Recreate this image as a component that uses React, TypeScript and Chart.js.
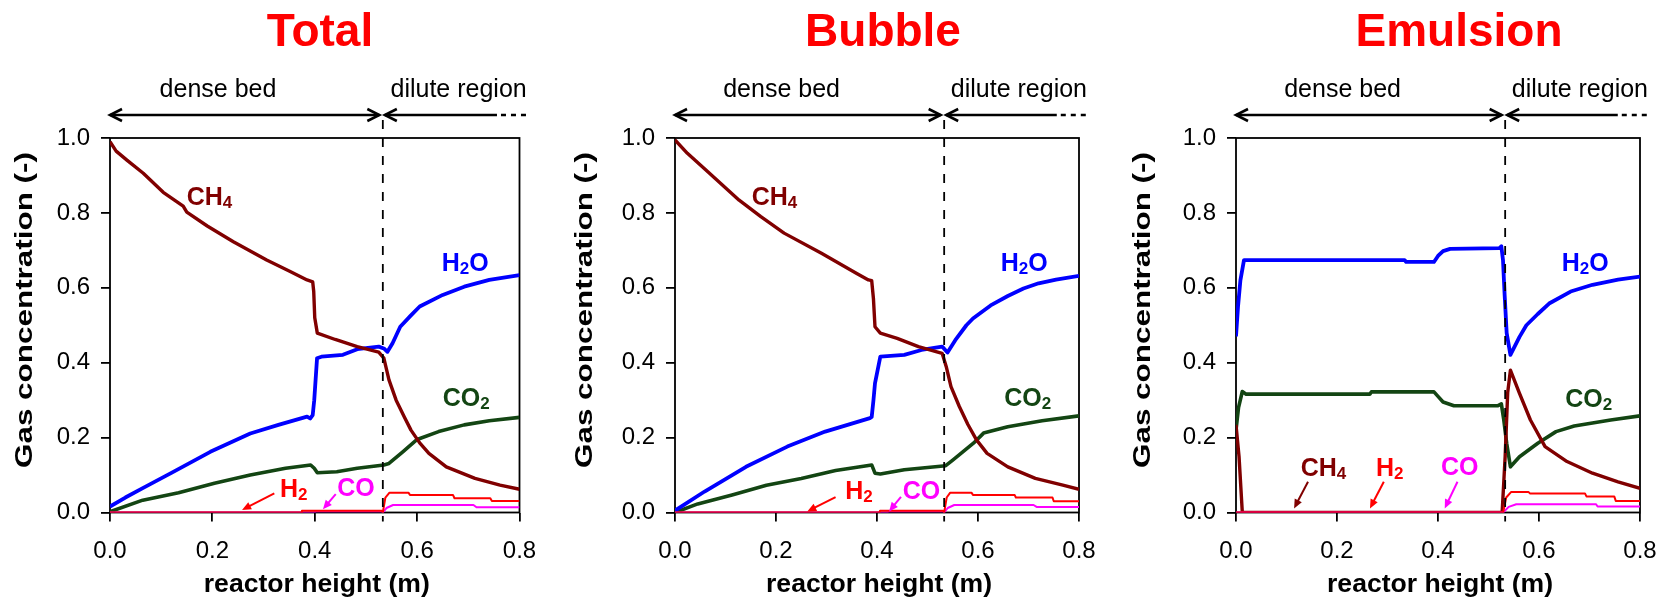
import React, { useEffect, useRef } from 'react';
import { Chart, registerables } from 'chart.js';

Chart.register(...registerables);

const FONT = "'Liberation Sans', Arial, Helvetica, sans-serif";
Chart.defaults.font.family = FONT;

type Pt = [number, number];

// ---------- text ----------
const panelTitles = ['Total', 'Bubble', 'Emulsion'];
const regionLabels = ['dense bed', 'dilute region'];
const xAxisTitle = 'reactor height (m)';
const yAxisTitle = 'Gas concentration (-)';
const speciesNames = ['H2', 'CO', 'CH4', 'H2O', 'CO2'];

// ---------- axes ----------
const xTickValues = [0, 0.2, 0.4, 0.6, 0.8];
const yTickValues = [0, 0.2, 0.4, 0.6, 0.8, 1.0];
const xRange = [0, 0.8];
const yRange = [0, 1];
const bedBoundary = 0.533;
const regionLabelX = [0.211, 0.681];
const regionArrowSolidEnd = 0.756;
const regionArrowDashEnd = 0.818;

// ---------- Total ----------
const totalCH4: Pt[] = [
  [0, 0.99], [0.012, 0.965], [0.033, 0.941], [0.065, 0.906], [0.104, 0.855], [0.143, 0.818],
  [0.15, 0.802], [0.19, 0.765], [0.241, 0.723], [0.306, 0.674], [0.35, 0.645], [0.385, 0.621],
  [0.396, 0.616], [0.398, 0.59], [0.4, 0.52], [0.405, 0.479], [0.44, 0.462], [0.483, 0.443],
  [0.525, 0.428], [0.535, 0.412], [0.545, 0.354], [0.559, 0.3], [0.575, 0.255], [0.588, 0.22],
  [0.605, 0.186], [0.623, 0.158], [0.657, 0.122], [0.713, 0.091], [0.762, 0.073], [0.8, 0.062],
];
const totalH2O: Pt[] = [
  [0, 0.016], [0.03, 0.04], [0.064, 0.065], [0.12, 0.106], [0.196, 0.162], [0.274, 0.211],
  [0.329, 0.234], [0.385, 0.256], [0.391, 0.251], [0.396, 0.26], [0.399, 0.3], [0.4045, 0.412],
  [0.413, 0.416], [0.455, 0.421], [0.483, 0.436], [0.525, 0.443], [0.535, 0.438], [0.542, 0.429],
  [0.552, 0.452], [0.567, 0.496], [0.587, 0.525], [0.605, 0.55], [0.65, 0.581], [0.692, 0.603],
  [0.741, 0.621], [0.8, 0.634],
];
const totalCO2: Pt[] = [
  [0, 0.002], [0.064, 0.033], [0.134, 0.053], [0.204, 0.078], [0.274, 0.1], [0.343, 0.118],
  [0.392, 0.127], [0.399, 0.118], [0.405, 0.106], [0.443, 0.109], [0.483, 0.118], [0.535, 0.127],
  [0.545, 0.131], [0.572, 0.162], [0.6, 0.195], [0.642, 0.216], [0.692, 0.234], [0.741, 0.245],
  [0.8, 0.254],
];
const totalH2: Pt[] = [
  [0, 0], [0.374, 0], [0.375, 0.005], [0.531, 0.005], [0.533, 0], [0.538, 0.04], [0.546, 0.053],
  [0.583, 0.053], [0.586, 0.047], [0.67, 0.047], [0.673, 0.038], [0.743, 0.038], [0.746, 0.031],
  [0.8, 0.031],
];
const totalCO: Pt[] = [
  [0, 0], [0.4, 0], [0.401, 0.003], [0.531, 0.003], [0.533, 0], [0.54, 0.012], [0.553, 0.02],
  [0.71, 0.02], [0.716, 0.014], [0.8, 0.014],
];

// ---------- Bubble ----------
const bubbleCH4: Pt[] = [
  [0, 0.995], [0.0245, 0.959], [0.065, 0.91], [0.127, 0.834], [0.17, 0.79], [0.216, 0.746],
  [0.29, 0.692], [0.359, 0.639], [0.383, 0.621], [0.3895, 0.619], [0.393, 0.57], [0.396, 0.496],
  [0.4066, 0.479], [0.44, 0.465], [0.482, 0.443], [0.529, 0.425], [0.537, 0.39], [0.5465, 0.336],
  [0.563, 0.283], [0.58, 0.235], [0.597, 0.194], [0.618, 0.158], [0.659, 0.122], [0.7135, 0.091],
  [0.768, 0.073], [0.8, 0.062],
];
const bubbleH2O: Pt[] = [
  [0, 0.005], [0.0586, 0.056], [0.1406, 0.122], [0.2224, 0.176], [0.2974, 0.216], [0.386, 0.252],
  [0.3895, 0.255], [0.393, 0.3], [0.396, 0.345], [0.4066, 0.416], [0.454, 0.421], [0.488, 0.434],
  [0.529, 0.443], [0.5396, 0.427], [0.555, 0.46], [0.577, 0.5], [0.59, 0.518], [0.625, 0.553],
  [0.659, 0.578], [0.69, 0.598], [0.72, 0.612], [0.7545, 0.622], [0.8, 0.632],
];
const bubbleCO2: Pt[] = [
  [0, 0], [0.045, 0.023], [0.113, 0.047], [0.181, 0.073], [0.25, 0.091], [0.318, 0.112],
  [0.3895, 0.127], [0.396, 0.105], [0.4066, 0.103], [0.454, 0.114], [0.536, 0.125], [0.55, 0.14],
  [0.591, 0.185], [0.611, 0.212], [0.659, 0.229], [0.727, 0.245], [0.8, 0.258],
];
const bubbleH2: Pt[] = [
  [0, 0], [0.405, 0], [0.406, 0.005], [0.531, 0.005], [0.533, 0], [0.538, 0.04], [0.545, 0.053],
  [0.587, 0.053], [0.59, 0.047], [0.6725, 0.047], [0.675, 0.04], [0.7475, 0.04], [0.75, 0.03],
  [0.8, 0.03],
];
const bubbleCO: Pt[] = [
  [0, 0], [0.42, 0], [0.421, 0.003], [0.531, 0.003], [0.533, 0], [0.54, 0.012], [0.553, 0.02],
  [0.71, 0.02], [0.716, 0.015], [0.8, 0.015],
];

// ---------- Emulsion ----------
const emulCH4: Pt[] = [
  [0, 0.234], [0.006, 0.15], [0.0125, 0], [0.527, 0], [0.533, 0.15], [0.538, 0.32],
  [0.5434, 0.38], [0.5614, 0.318], [0.583, 0.247], [0.612, 0.176], [0.6555, 0.136],
  [0.706, 0.105], [0.7565, 0.082], [0.8, 0.0646],
];
const emulH2O: Pt[] = [
  [0, 0.47], [0.004, 0.55], [0.0087, 0.62], [0.0158, 0.674], [0.334, 0.674], [0.337, 0.669],
  [0.392, 0.669], [0.4, 0.685], [0.41, 0.698], [0.424, 0.704], [0.5218, 0.706], [0.5254, 0.711],
  [0.5287, 0.674], [0.532, 0.58], [0.536, 0.479], [0.5434, 0.421], [0.5614, 0.469], [0.575, 0.5],
  [0.5976, 0.53], [0.62, 0.558], [0.6626, 0.59], [0.706, 0.608], [0.7565, 0.622], [0.8, 0.63],
];
const emulCO2: Pt[] = [
  [0, 0.22], [0.005, 0.28], [0.0125, 0.323], [0.02, 0.316], [0.265, 0.316], [0.268, 0.322],
  [0.392, 0.322], [0.4, 0.31], [0.41, 0.295], [0.4315, 0.285], [0.518, 0.285], [0.5254, 0.29],
  [0.53, 0.25], [0.536, 0.185], [0.5434, 0.122], [0.5614, 0.149], [0.5976, 0.185], [0.6337, 0.216],
  [0.6697, 0.231], [0.742, 0.247], [0.8, 0.258],
];
const emulH2: Pt[] = [
  [0, 0], [0.529, 0], [0.535, 0.04], [0.545, 0.055], [0.579, 0.055], [0.582, 0.051],
  [0.691, 0.051], [0.694, 0.043], [0.749, 0.043], [0.752, 0.031], [0.8, 0.031],
];
const emulCO: Pt[] = [
  [0, 0], [0.529, 0], [0.54, 0.015], [0.555, 0.022], [0.713, 0.022], [0.716, 0.016], [0.8, 0.016],
];

const panelSeries: Pt[][][] = [
  [totalH2, totalCO, totalCH4, totalH2O, totalCO2],
  [bubbleH2, bubbleCO, bubbleCH4, bubbleH2O, bubbleCO2],
  [emulH2, emulCO, emulCH4, emulH2O, emulCO2],
];

// ---------- styles ----------
const speciesColors: Record<string, string> = {
  H2: '#FF0000', CO: '#FF00FF', CH4: '#800000', H2O: '#0000FF', CO2: '#134513',
};
const speciesWidths: Record<string, number> = { H2: 2, CO: 2, CH4: 3.4, H2O: 3.8, CO2: 3.6 };

// labels: left edge x / baseline y in data units
const panelLabels = [
  [
    { sp: 'CH4', x: 0.1498, y: 0.822 }, { sp: 'H2O', x: 0.648, y: 0.646 },
    { sp: 'CO2', x: 0.65, y: 0.284 }, { sp: 'H2', x: 0.332, y: 0.041 }, { sp: 'CO', x: 0.444, y: 0.044 },
  ],
  [
    { sp: 'CH4', x: 0.152, y: 0.821 }, { sp: 'H2O', x: 0.645, y: 0.645 },
    { sp: 'CO2', x: 0.652, y: 0.284 }, { sp: 'H2', x: 0.337, y: 0.036 }, { sp: 'CO', x: 0.451, y: 0.036 },
  ],
  [
    { sp: 'H2O', x: 0.645, y: 0.645 }, { sp: 'CO2', x: 0.652, y: 0.281 },
    { sp: 'CH4', x: 0.128, y: 0.0975 }, { sp: 'H2', x: 0.277, y: 0.0975 }, { sp: 'CO', x: 0.406, y: 0.1 },
  ],
];
const panelPointers = [
  [
    { sp: 'H2', x1: 0.321, y1: 0.051, x2: 0.258, y2: 0.007 },
    { sp: 'CO', x1: 0.441, y1: 0.049, x2: 0.416, y2: 0.009 },
  ],
  [
    { sp: 'H2', x1: 0.318, y1: 0.041, x2: 0.262, y2: 0.003 },
    { sp: 'CO', x1: 0.4475, y1: 0.042, x2: 0.424, y2: 0.003 },
  ],
  [
    { sp: 'CH4', x1: 0.1426, y1: 0.082, x2: 0.115, y2: 0.011 },
    { sp: 'H2', x1: 0.2927, y1: 0.082, x2: 0.2653, y2: 0.011 },
    { sp: 'CO', x1: 0.4386, y1: 0.082, x2: 0.4133, y2: 0.011 },
  ],
];

// ---------- layout (page pixels) ----------
const H = 603;
const plotTop = 138;
const plotBottom = 512.5;
const panelBoxes = [
  { left: 0, width: 557, plotL: 110, plotR: 519.5, titleX: 320, yTitleX: 31.5 },
  { left: 557, width: 557, plotL: 675, plotR: 1079, titleX: 883, yTitleX: 591.5 },
  { left: 1114, width: 558, plotL: 1236, plotR: 1640, titleX: 1459, yTitleX: 1150 },
];

function stretchedText(ctx: CanvasRenderingContext2D, text: string, x: number, y: number,
  font: string, width: number, color: string) {
  ctx.save();
  ctx.font = font;
  ctx.fillStyle = color;
  ctx.textAlign = 'center';
  ctx.textBaseline = 'alphabetic';
  const w = ctx.measureText(text).width;
  ctx.translate(x, y);
  ctx.scale(width / w, 1);
  ctx.fillText(text, 0, 0);
  ctx.restore();
}

function drawChem(ctx: CanvasRenderingContext2D, text: string, x: number, y: number, color: string) {
  ctx.save();
  ctx.fillStyle = color;
  ctx.textAlign = 'left';
  ctx.textBaseline = 'alphabetic';
  let cx = x;
  for (const ch of text) {
    const sub = /[0-9]/.test(ch);
    ctx.font = `bold ${sub ? 17 : 25}px ${FONT}`;
    ctx.fillText(ch, cx, sub ? y + 3 : y);
    cx += ctx.measureText(ch).width;
  }
  ctx.restore();
}

function chevron(ctx: CanvasRenderingContext2D, tipX: number, y: number, dir: number) {
  ctx.beginPath();
  ctx.moveTo(tipX - dir * 12, y - 6);
  ctx.lineTo(tipX, y);
  ctx.lineTo(tipX - dir * 12, y + 6);
  ctx.stroke();
}

function pointer(ctx: CanvasRenderingContext2D, x1: number, y1: number, x2: number, y2: number, color: string) {
  const a = Math.atan2(y2 - y1, x2 - x1);
  const c = Math.cos(a), s = Math.sin(a);
  ctx.save();
  ctx.strokeStyle = color;
  ctx.fillStyle = color;
  ctx.lineWidth = 2;
  ctx.beginPath();
  ctx.moveTo(x1, y1);
  ctx.lineTo(x2 - c * 6, y2 - s * 6);
  ctx.stroke();
  ctx.beginPath();
  ctx.moveTo(x2, y2);
  ctx.lineTo(x2 - c * 9 - s * 4, y2 - s * 9 + c * 4);
  ctx.lineTo(x2 - c * 9 + s * 4, y2 - s * 9 - c * 4);
  ctx.closePath();
  ctx.fill();
  ctx.restore();
}

function makeDecor(index: number) {
  const box = panelBoxes[index];
  return {
    id: 'decor' + index,
    beforeDatasetsDraw(chart: any) {
      const { ctx, chartArea: a } = chart;
      ctx.save();
      ctx.strokeStyle = '#000';
      ctx.lineWidth = 1.8;
      ctx.strokeRect(a.left, a.top, a.right - a.left, a.bottom - a.top);
      ctx.restore();
    },
    afterDatasetsDraw(chart: any) {
      const { ctx, chartArea: a, scales } = chart;
      const xb = scales.x.getPixelForValue(bedBoundary);
      ctx.save();
      ctx.strokeStyle = '#000';
      ctx.lineWidth = 1.8;
      ctx.setLineDash([9, 9]);
      ctx.beginPath();
      ctx.moveTo(xb, 120);
      ctx.lineTo(xb, a.bottom + 9);
      ctx.stroke();
      ctx.restore();
    },
    afterDraw(chart: any) {
      const { ctx, chartArea: a, scales } = chart;
      const xs = (v: number) => scales.x.getPixelForValue(v);
      const ys = (v: number) => scales.y.getPixelForValue(v);

      // panel title
      ctx.save();
      ctx.font = `bold 46px ${FONT}`;
      ctx.fillStyle = '#FF0000';
      ctx.textAlign = 'center';
      ctx.textBaseline = 'alphabetic';
      ctx.fillText(panelTitles[index], box.titleX - box.left, 46);

      // region labels
      ctx.font = `25px ${FONT}`;
      ctx.fillStyle = '#000';
      ctx.fillText(regionLabels[0], xs(regionLabelX[0]), 96.7);
      ctx.fillText(regionLabels[1], xs(regionLabelX[1]), 96.7);
      ctx.restore();

      // region arrows
      const ay = 115;
      const xb = xs(bedBoundary);
      ctx.save();
      ctx.strokeStyle = '#000';
      ctx.lineWidth = 2.6;
      ctx.lineCap = 'butt';
      ctx.beginPath();
      ctx.moveTo(xs(0), ay);
      ctx.lineTo(xb - 3.5, ay);
      ctx.stroke();
      chevron(ctx, xs(0), ay, -1);
      chevron(ctx, xb - 3.5, ay, 1);
      ctx.beginPath();
      ctx.moveTo(xb + 2, ay);
      ctx.lineTo(xs(regionArrowSolidEnd), ay);
      ctx.stroke();
      chevron(ctx, xb + 2, ay, -1);
      ctx.setLineDash([5, 5]);
      ctx.beginPath();
      ctx.moveTo(xs(regionArrowSolidEnd) + 4, ay);
      ctx.lineTo(xs(regionArrowDashEnd), ay);
      ctx.stroke();
      ctx.restore();

      // axis titles
      stretchedText(ctx, xAxisTitle, (a.left + a.right) / 2 + 2, 592, `bold 25px ${FONT}`, 226, '#000');
      ctx.save();
      ctx.font = `bold 23px ${FONT}`;
      const w = ctx.measureText(yAxisTitle).width;
      ctx.translate(box.yTitleX - box.left, 310);
      ctx.rotate(-Math.PI / 2);
      ctx.scale(316 / w, 1);
      ctx.fillStyle = '#000';
      ctx.textAlign = 'center';
      ctx.textBaseline = 'alphabetic';
      ctx.fillText(yAxisTitle, 0, 0);
      ctx.restore();

      // species labels and pointers
      for (const p of panelPointers[index]) {
        pointer(ctx, xs(p.x1), ys(p.y1), xs(p.x2), ys(p.y2), speciesColors[p.sp]);
      }
      for (const l of panelLabels[index]) {
        drawChem(ctx, l.sp, xs(l.x), ys(l.y), speciesColors[l.sp]);
      }
    },
  };
}

function Panel({ index }: { index: number }) {
  const ref = useRef<HTMLCanvasElement>(null);
  const box = panelBoxes[index];
  useEffect(() => {
    const canvas = ref.current;
    if (!canvas) return;
    const tickFont = { size: 24, family: FONT };
    const chart = new Chart(canvas, {
      type: 'line',
      data: {
        datasets: speciesNames.map((sp, i) => ({
          label: sp,
          data: panelSeries[index][i].map(([x, y]) => ({ x, y })),
          borderColor: speciesColors[sp],
          backgroundColor: speciesColors[sp],
          borderWidth: speciesWidths[sp],
          pointRadius: 0,
          fill: false,
          tension: 0,
          borderJoinStyle: 'round',
        })),
      },
      options: {
        responsive: false,
        animation: false,
        devicePixelRatio: 1,
        layout: {
          padding: { left: 0, top: plotTop, right: box.width - (box.plotR - box.left), bottom: 0 },
        },
        plugins: { legend: { display: false }, tooltip: { enabled: false } },
        scales: {
          x: {
            type: 'linear',
            min: xRange[0],
            max: xRange[1],
            afterFit: (s: any) => { s.height = H - plotBottom; },
            afterBuildTicks: (s: any) => { s.ticks = xTickValues.map((v) => ({ value: v })); },
            ticks: {
              font: tickFont, color: '#000', padding: 15, maxRotation: 0, autoSkip: false,
              callback: (v: any) => Number(v).toFixed(1),
            },
            grid: { display: true, drawOnChartArea: false, drawTicks: true, tickLength: 9, color: '#000', lineWidth: 1.8 },
            border: { display: false },
          },
          y: {
            type: 'linear',
            min: yRange[0],
            max: yRange[1],
            afterFit: (s: any) => { s.width = box.plotL - box.left; },
            afterBuildTicks: (s: any) => { s.ticks = yTickValues.map((v) => ({ value: v })); },
            ticks: {
              font: tickFont, color: '#000', padding: 11, autoSkip: false,
              callback: (v: any) => Number(v).toFixed(1),
            },
            grid: { display: true, drawOnChartArea: false, drawTicks: true, tickLength: 9, color: '#000', lineWidth: 1.8 },
            border: { display: false },
          },
        },
      } as any,
      plugins: [makeDecor(index)],
    });
    return () => chart.destroy();
  }, [index]);
  return (
    <canvas
      ref={ref}
      width={box.width}
      height={H}
      style={{ position: 'absolute', left: box.left, top: 0, width: box.width, height: H }}
    />
  );
}

export default function App() {
  return (
    <div style={{ position: 'absolute', left: 0, top: 0, width: 1672, height: H, background: '#fff', overflow: 'hidden' }}>
      {panelTitles.map((_, i) => <Panel key={i} index={i} />)}
    </div>
  );
}
